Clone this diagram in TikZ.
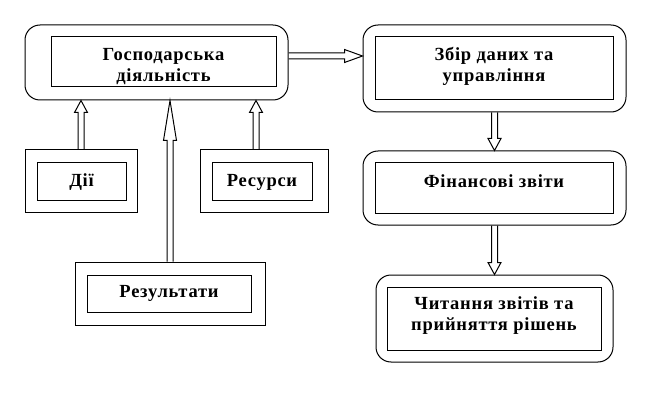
\documentclass[tikz,border=0pt]{standalone}
\usepackage{fontspec}
\setmainfont{Liberation Serif}[LetterSpace=4]
\usetikzlibrary{calc}

% hollow block arrow: start, tip, head length
\newcommand{\hollowarrow}[3]{%
  \coordinate (hb) at ($(#2)!#3!(#1)$);
  \draw[arrowline] ($(#1)!3pt!90:(#2)$) -- ($(hb)!3pt!90:(#2)$)
    -- ($(hb)!6.5pt!90:(#2)$) -- (#2) -- ($(hb)!6.5pt!-90:(#2)$)
    -- ($(hb)!3pt!-90:(#2)$) -- ($(#1)!3pt!-90:(#2)$);
}

\begin{document}
\begin{tikzpicture}[
  x=1pt, y=-1pt,
  shell/.style={draw, line width=1pt, inner sep=0pt},
  frame/.style={shell, rounded corners=15pt},
  caption/.style={font=\bfseries\fontsize{18.5}{21}\selectfont, align=center, inner sep=0pt},
  arrowline/.style={line width=1pt, line join=miter}
]
  \useasboundingbox (0,0) rectangle (651,401);

  % left part
  \node[frame, minimum width=263, minimum height=75] (gosp) at (156.5,62.5) {};
  \node[shell, minimum width=225, minimum height=50] (gosp-in) at (163.5,62) {};
  \node[caption] (gosp-txt) at (163.5,67) {Господарська\\діяльність};

  \node[shell, minimum width=112, minimum height=62] (dii) at (81,181) {};
  \node[shell, minimum width=89, minimum height=38] (dii-in) at (81.5,182) {};
  \node[caption] (dii-txt) at (dii-in.center) {Дії};

  \node[shell, minimum width=128, minimum height=62] (res) at (264,181) {};
  \node[shell, minimum width=100, minimum height=38] (res-in) at (262,182) {};
  \node[caption] (res-txt) at (res-in.center) {Ресурси};

  \node[shell, minimum width=190, minimum height=63] (rez) at (170,293.5) {};
  \node[shell, minimum width=164, minimum height=37] (rez-in) at (169,293.5) {};
  \node[caption] (rez-txt) at (rez-in.center) {Результати};

  % right part
  \node[frame, minimum width=263, minimum height=87] (zbir) at (494.5,68.5) {};
  \node[shell, minimum width=238, minimum height=63] (zbir-in) at (494,68.5) {};
  \node[caption] (zbir-txt) at (494,66) {Збір даних та\\управління};

  \node[frame, minimum width=263, minimum height=74] (fin) at (494.5,188) {};
  \node[shell, minimum width=238, minimum height=50] (fin-in) at (494,188) {};
  \node[caption] (fin-txt) at (494,181) {Фінансові звіти};

  \node[frame, minimum width=237, minimum height=87] (chyt) at (494.5,318.5) {};
  \node[shell, minimum width=214, minimum height=63] (chyt-in) at (494,318.5) {};
  \node[caption] (chyt-txt) at (494,316) {Читання звітів та\\прийняття рішень};

  % arrows
  \hollowarrow{dii.north}{dii.north |- gosp.south}{12pt}
  \coordinate (res-top) at ($(res.north)+(-8,0)$);
  \hollowarrow{res-top}{res-top |- gosp.south}{12pt}
  \hollowarrow{rez.north}{rez.north |- gosp.south}{40pt}
  \coordinate (gosp-port) at ($(gosp.east)+(0,-6.5)$);
  \hollowarrow{gosp-port}{gosp-port -| zbir.west}{18pt}
  \hollowarrow{zbir.south}{fin.north}{12pt}
  \hollowarrow{fin.south}{chyt.north}{12pt}
\end{tikzpicture}
\end{document}
